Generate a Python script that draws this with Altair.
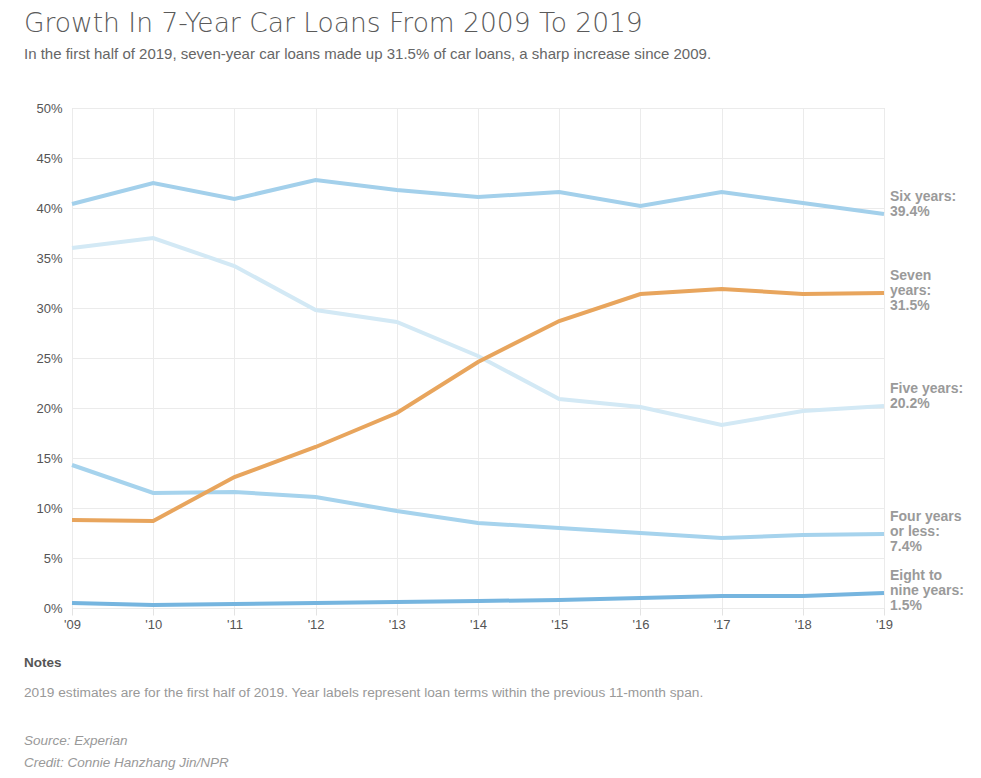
import altair as alt
import pandas as pd

years = list(range(2009, 2020))
six_years = [40.4, 42.5, 40.9, 42.8, 41.8, 41.1, 41.6, 40.2, 41.6, 40.5, 39.4]
five_years = [36.0, 37.0, 34.2, 29.8, 28.6, 25.2, 20.9, 20.1, 18.3, 19.7, 20.2]
seven_years = [8.8, 8.7, 13.1, 16.1, 19.5, 24.6, 28.7, 31.4, 31.9, 31.4, 31.5]
four_or_less = [14.3, 11.5, 11.6, 11.1, 9.7, 8.5, 8.0, 7.5, 7.0, 7.3, 7.4]
eight_to_nine = [0.5, 0.3, 0.4, 0.5, 0.6, 0.7, 0.8, 1.0, 1.2, 1.2, 1.5]

series_names = ["Five years", "Six years", "Four years or less", "Eight to nine years", "Seven years"]
series_values = [five_years, six_years, four_or_less, eight_to_nine, seven_years]
series_colors = ["#d3e9f5", "#a3d0eb", "#a6d3ed", "#76b5df", "#e8a55d"]

label_lines = {
    "Six years": ["Six years:", "39.4%"],
    "Seven years": ["Seven", "years:", "31.5%"],
    "Five years": ["Five years:", "20.2%"],
    "Four years or less": ["Four years", "or less:", "7.4%"],
    "Eight to nine years": ["Eight to", "nine years:", "1.5%"],
}

rows = []
for name, vals in zip(series_names, series_values):
    for yr, v in zip(years, vals):
        rows.append({"series": name, "year": yr, "value": v})
df = pd.DataFrame(rows)

lab_rows = []
for name, lines in label_lines.items():
    v = series_values[series_names.index(name)][-1]
    for li, t in enumerate(lines):
        lab_rows.append({"series": name, "line": li, "text": t, "year": 2019, "value": v})
lab = pd.DataFrame(lab_rows)

font = "Liberation Sans"

x = alt.X("year:Q", scale=alt.Scale(domain=[2009, 2019], nice=False),
          axis=alt.Axis(title=None, values=years,
                        labelExpr="\"'\" + substring(toString(datum.value), 2)",
                        labelFont=font, labelFontSize=13, labelColor="#555",
                        labelFlush=False,
                        grid=True, gridColor="#ebebeb", domain=False,
                        ticks=True, tickColor="#e3e3e3", tickSize=7, labelPadding=3))
y = alt.Y("value:Q", scale=alt.Scale(domain=[0, 50], nice=False),
          axis=alt.Axis(title=None, values=list(range(0, 51, 5)),
                        labelExpr="datum.value + '%'",
                        labelFont=font, labelFontSize=13, labelColor="#555",
                        grid=True, gridColor="#ebebeb", domain=False,
                        ticks=False, labelPadding=10))

color = alt.Color("series:N", scale=alt.Scale(domain=series_names, range=series_colors), legend=None)

base = alt.Chart(df)
blue_lines = base.transform_filter("datum.series != 'Seven years'").mark_line(strokeWidth=4, clip=False).encode(
    x=x, y=y, color=color, order=alt.Order("year:Q"))
seven_line = base.transform_filter("datum.series == 'Seven years'").mark_line(strokeWidth=4, clip=False).encode(
    x="year:Q", y="value:Q", color=color)

label_layers = []
for li, dy in zip([0, 1, 2], [-17, -2, 13]):
    label_layers.append(
        alt.Chart(lab).transform_filter(f"datum.line == {li}").mark_text(
            align="left", baseline="middle", dx=6, dy=dy, font=font, fontSize=14,
            fontWeight="bold", color="#9a9a9a"
        ).encode(x="year:Q", y="value:Q", text="text:N")
    )

title_text = ["Growth In 7-Year Car Loans From 2009 To 2019"]
subtitle_text = ["In the first half of 2019, seven-year car loans made up 31.5% of car loans, a sharp increase since 2009."]
notes_head = ["Notes"]
notes_body = ["2019 estimates are for the first half of 2019. Year labels represent loan terms within the previous 11-month span."]
source_text = ["Source: Experian"]
credit_text = ["Credit: Connie Hanzhang Jin/NPR"]

def txt(t, yv, size, color, weight="normal", style="normal", f=font):
    return alt.Chart(pd.DataFrame({"t": t})).mark_text(
        align="left", baseline="alphabetic", font=f, fontSize=size, color=color,
        fontWeight=weight, fontStyle=style
    ).encode(x=alt.value(-48), y=alt.value(yv), text="t:N")

texts = [
    txt(title_text, -76, 26.5, "#5a5a5a", weight=300, f="DejaVu Sans"),
    txt(subtitle_text, -49, 15, "#666"),
    txt(notes_head, 559, 13.5, "#555", weight="bold"),
    txt(notes_body, 589, 13.7, "#999"),
    txt(source_text, 637, 13.5, "#999", style="italic"),
    txt(credit_text, 659, 13.5, "#999", style="italic"),
]

chart = alt.layer(blue_lines, seven_line, *label_layers, *texts).properties(
    width=812, height=500,
    autosize=alt.AutoSizeParams(type="none"),
    padding={"left": 64, "top": 100, "right": 85, "bottom": 162},
).configure_view(stroke=None).configure(background="white")

chart.save("out.html", embed_options={"renderer": "svg", "actions": False})
